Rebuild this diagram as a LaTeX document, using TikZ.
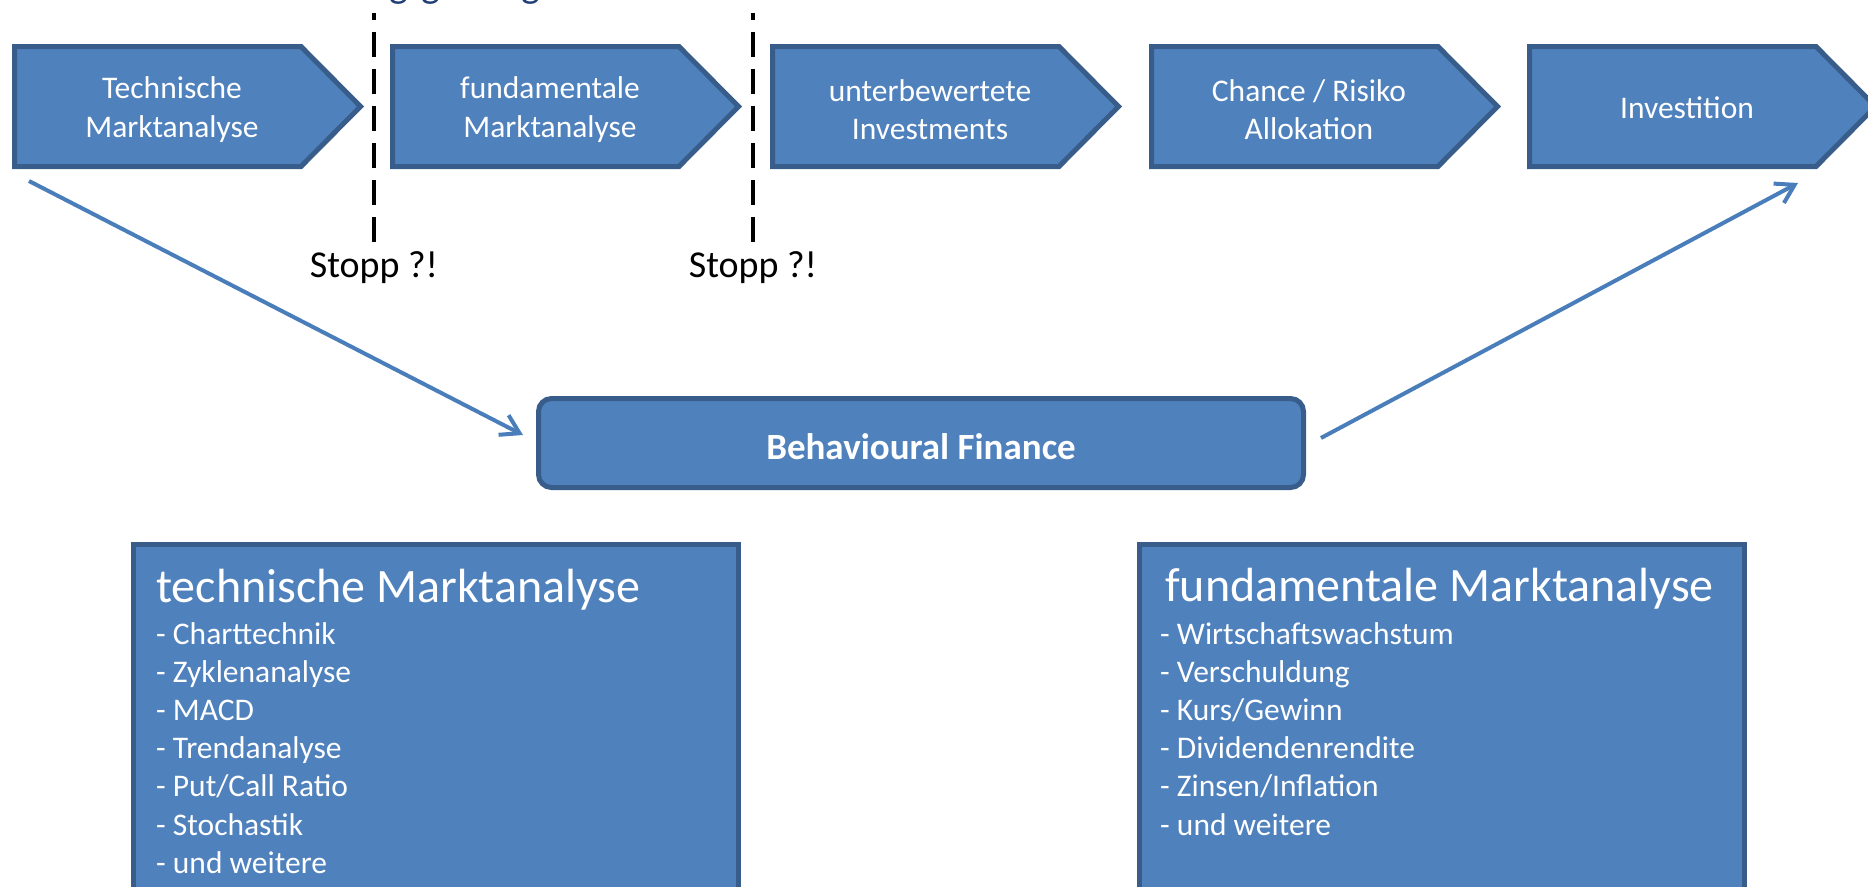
\documentclass[tikz,border=0pt]{standalone}
\usepackage{fontspec}
\setmainfont{Carlito}
\usetikzlibrary{arrows.meta,calc}
\definecolor{boxfill}{HTML}{4F81BD}
\definecolor{boxline}{HTML}{385D8A}
\definecolor{arrowc}{HTML}{4A7EBB}
\definecolor{titlec}{HTML}{1F3D7A}
\begin{document}
\begin{tikzpicture}[x=1pt,y=-1pt,
  chevbox/.style={fill=boxfill,draw=boxline,line width=5pt,line join=miter},
  chevtext/.style={text=white,align=center,font=\fontsize{31.5}{38.4}\selectfont,inner sep=0pt},
  stopline/.style={draw=black,line width=4.5pt,dash pattern=on 25pt off 12pt,dash phase=18pt},
  stoptext/.style={font=\fontsize{38}{45}\selectfont,inner sep=0pt,anchor=base},
  conn/.style={draw=arrowc,line width=4pt,-{Straight Barb[length=18pt,width=22pt,line width=4pt]}},
  bfbox/.style={fill=boxfill,draw=boxline,line width=5pt,rounded corners=13pt,
    minimum width=765pt,minimum height=89pt},
  bftext/.style={text=white,inner sep=0pt,font=\fontsize{37}{44}\selectfont\bfseries},
  listbox/.style={fill=boxfill,draw=boxline,line width=5pt,anchor=north west,
    minimum width=605pt,minimum height=420pt,inner sep=0pt},
  listtitle/.style={text=white,anchor=base west,inner sep=0pt,font=\fontsize{48}{57}\selectfont},
  listitem/.style={text=white,anchor=base west,inner sep=0pt,font=\fontsize{31.5}{38.4}\selectfont},
  cutg/.style={text=titlec,anchor=base,inner sep=0pt,font=\fontsize{40}{48}\selectfont}
]
\useasboundingbox (0,0) rectangle (1868,886);
\begin{scope}
\clip (0,0) rectangle (1868,886);

% cut-off heading (only descenders visible)
\node[cutg] (g1) at (399,-2) {g};
\node[cutg] (g2) at (431,-2) {g};
\node[cutg] (g3) at (531,-2) {g};

% chevrons
\foreach \L/\n/\t/\dy in {12/c1/{Technische\\Marktanalyse}/0,
                      390/c2/{fundamentale\\Marktanalyse}/0,
                      770/c3/{unterbewertete\\Investments}/0,
                      1149/c4/{Chance / Risiko\\Allokation}/0,
                      1527/c5/{Investition}/-2}{
  \draw[chevbox] (\L+2.5,46.5) -- (\L+289,46.5) -- (\L+348.5,106.5) -- (\L+289,166.5) -- (\L+2.5,166.5) -- cycle;
  \node[chevtext] (\n) at (\L+160,109.5+\dy) {\t};
}

% stop lines
\coordinate (d1t) at (374,13);
\coordinate (d1b) at (374,243);
\coordinate (d2t) at (753,13);
\coordinate (d2b) at (753,243);
\draw[stopline] (d1t) -- (d1b);
\draw[stopline] (d2t) -- (d2b);
\node[stoptext] (s1) at (374,277) {Stopp ?!};
\node[stoptext] (s2) at (753,277) {Stopp ?!};

% behavioural finance
\node[bfbox] (bf) at (921,443) {};
\node[bftext] (bft) at (921,447) {Behavioural Finance};

% arrows
\coordinate (a1s) at (29,181);
\coordinate (a1e) at (523,435);
\coordinate (a2s) at (1321,438);
\coordinate (a2e) at (1798,183);
\draw[conn] (a1s) -- (a1e);
\draw[conn] (a2s) -- (a2e);

% bottom boxes
\node[listbox] (tb) at (131,542) {};
\node[listbox] (fb) at (1137,542) {};
\node[listtitle] (tbt) at (156,602) {technische Marktanalyse};
\node[listtitle] (fbt) at (1165,601) {fundamentale Marktanalyse};
\foreach \t [count=\i] in {Charttechnik,Zyklenanalyse,MACD,Trendanalyse,Put/Call Ratio,Stochastik,und weitere}{
  \node[listitem] (ti\i) at (156,644+38.2*\i-38.2) {- \t};
}
\foreach \t [count=\i] in {Wirtschaftswachstum,Verschuldung,Kurs/Gewinn,Dividendenrendite,Zinsen/Inflation,und weitere}{
  \node[listitem] (fi\i) at (1160,644+38.2*\i-38.2) {- \t};
}
\end{scope}
\end{tikzpicture}
\end{document}
